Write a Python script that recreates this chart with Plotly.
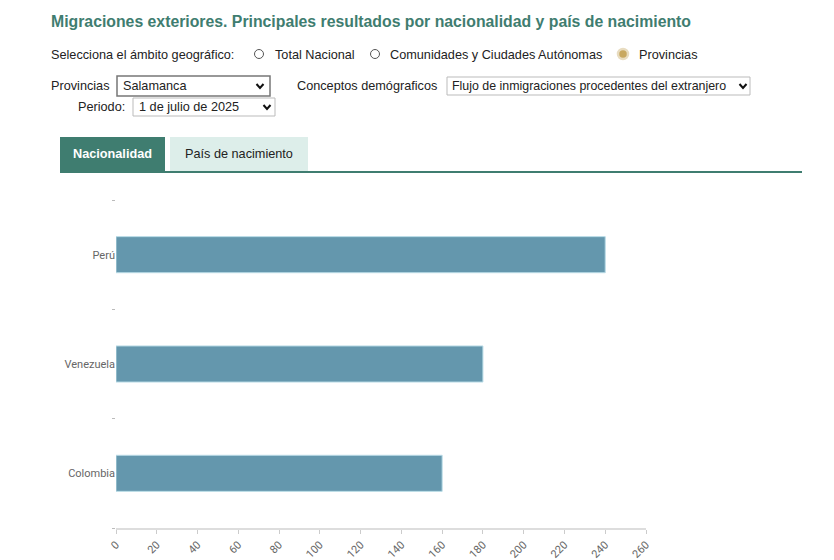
import plotly.graph_objects as go

countries = ["Perú", "Venezuela", "Colombia"]
values = [240, 180, 160]
x_ticks = list(range(0, 261, 20))

OFF = 8  # browser body margin
L, R, T, B = 116, 646, 200, 528
def px(x): return (x - L) / (R - L)
def py(y): return (B - y) / (B - T)

GREEN = "#3f7d70"
fig = go.Figure(go.Bar(y=countries, x=values, orientation="h", width=0.33,
                       marker=dict(color="#6497ad", line=dict(color="#b9dbe6", width=1))))

ann = []
shapes = []
def text(x, y, s, size=12.7, color="#222", bold=False, family="Liberation Sans, Arial", anchor="left", dy=0):
    ann.append(dict(x=px(x), y=py(y + dy), xref="paper", yref="paper", text=("<b>%s</b>" % s) if bold else s,
                    showarrow=False, xanchor=anchor, yanchor="middle",
                    font=dict(size=size, color=color, family=family)))
def rect(x0, y0, x1, y1, fill="rgba(0,0,0,0)", line="#999", lw=1):
    shapes.append(dict(type="rect", xref="paper", yref="paper", x0=px(x0), x1=px(x1), y0=py(y0), y1=py(y1),
                       fillcolor=fill, line=dict(color=line, width=lw), layer="above"))
def circle(cx, cy, rad, fill="white", line="#555", lw=1):
    shapes.append(dict(type="circle", xref="paper", yref="paper", x0=px(cx-rad), x1=px(cx+rad),
                       y0=py(cy+rad), y1=py(cy-rad), fillcolor=fill, line=dict(color=line, width=lw)))
def chevron(cx, cy):
    p = "M %f %f L %f %f L %f %f" % (px(cx-3.5), py(cy-2), px(cx), py(cy+2), px(cx+3.5), py(cy-2))
    shapes.append(dict(type="path", xref="paper", yref="paper", path=p, line=dict(color="#111", width=2)))

text(49, 22, "Migraciones exteriores. Principales resultados por nacionalidad y país de nacimiento",
     size=15.8, color=GREEN, bold=True, dy=-1)
text(49, 55, "Selecciona el ámbito geográfico:")
circle(259, 54, 4.5); text(273, 55, "Total Nacional")
circle(375, 54, 4.5); text(388, 55, "Comunidades y Ciudades Autónomas")
circle(623, 54, 5, fill="#c8a860", line="#e8dcc0", lw=2.5)
text(637, 55, "Provincias")

text(49, 86, "Provincias")
rect(117, 76, 270, 96, line="#777", lw=1.5)
text(121, 86, "Salamanca"); chevron(260, 86)
text(295, 86, "Conceptos demógraficos")
rect(447, 77, 750, 95, line="#bbb")
text(450, 86, "Flujo de inmigraciones procedentes del extranjero", size=12.4); chevron(743, 86)
text(76, 107, "Periodo:")
rect(133, 98, 275, 116, line="#bbb")
text(137, 107, "1 de julio de 2025"); chevron(267, 107)

rect(60, 137, 165, 171, fill=GREEN, line=GREEN, lw=0)
text(112, 154, "Nacionalidad", color="white", bold=True, anchor="center")
rect(170, 137, 308, 171, fill="#ddeeea", line="#ddeeea", lw=0)
text(239, 154, "País de nacimiento", color="#222", anchor="center")
rect(60, 171, 802, 173, fill=GREEN, line=GREEN, lw=0)

fig.update_layout(
    width=834 - OFF, height=560 - OFF, margin=dict(l=L - OFF, r=834 - R, t=T - OFF, b=560 - B),
    paper_bgcolor="white", plot_bgcolor="white", showlegend=False,
    annotations=ann, shapes=shapes,
    xaxis=dict(range=[0, 260], tickvals=x_ticks, tickangle=-45, showgrid=False, zeroline=False,
               automargin=False,
               showline=True, linecolor="#ddd", linewidth=2, ticks="outside", ticklen=4, tickcolor="#ccc",
               tickfont=dict(size=11, color="#666", family="Liberation Sans Narrow, Roboto, sans-serif")),
    yaxis=dict(categoryorder="array", categoryarray=countries[::-1], showgrid=False, zeroline=False,
               automargin=False,
               ticks="outside", tickson="boundaries", ticklen=3, tickcolor="#bbb", ticklabelstandoff=0,
               tickfont=dict(size=11, color="#666", family="Liberation Sans Narrow, Roboto, sans-serif")),
)
fig.write_html("out.html")
